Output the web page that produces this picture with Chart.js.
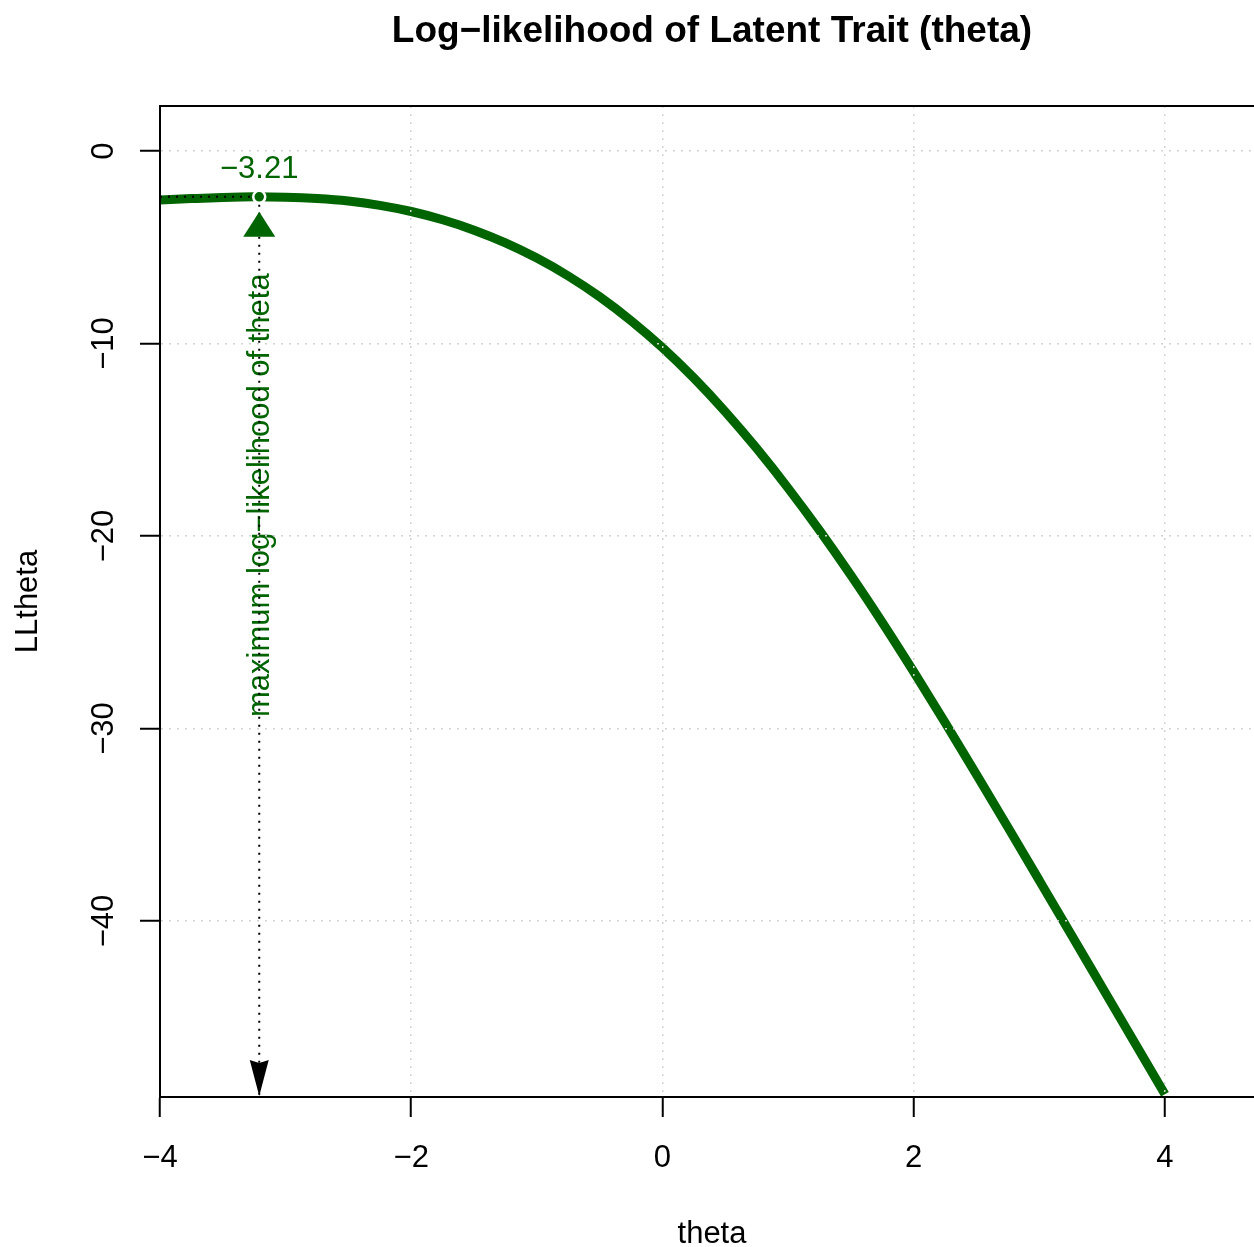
<!DOCTYPE html>
<html>
<head>
<meta charset="utf-8">
<title>Log-likelihood of Latent Trait (theta)</title>
<script src="https://cdn.jsdelivr.net/npm/chart.js@4.4.1/dist/chart.umd.min.js"></script>
<style>
  html, body { margin: 0; padding: 0; background: #fff; }
  canvas { display: block; }
</style>
</head>
<body>
<canvas id="chartLL" width="1254" height="1247"></canvas>
<script>
// theta grid and the log-likelihood at each theta
const thetaValues = [-4.00, -3.75, -3.50, -3.25, -3.00, -2.75, -2.50, -2.25, -2.00, -1.75, -1.50,
  -1.25, -1.00, -0.75, -0.50, -0.25, 0.00, 0.25, 0.50, 0.75, 1.00, 1.25, 1.50, 1.75, 2.00,
  2.25, 2.50, 2.75, 3.00, 3.25, 3.50, 3.75, 4.00];
const llValues = [-2.54, -2.47, -2.41, -2.38, -2.40, -2.47, -2.60, -2.82, -3.14, -3.57, -4.11,
  -4.77, -5.56, -6.49, -7.57, -8.81, -10.21, -11.79, -13.54, -15.45, -17.51, -19.71, -22.04,
  -24.49, -27.05, -29.69, -32.39, -35.13, -37.89, -40.66, -43.44, -46.22, -49.00];

// ejes
const thetaTicks = [-4, -2, 0, 2, 4];
const llTicks = [-40, -30, -20, -10, 0];

// maximum of the log-likelihood
const thetaMax = -3.21;
const llMax = -2.38;

const VERDE = "#006400";
const GRIS = "#D3D3D3";
const FONT = '"Liberation Sans", Arial, Helvetica, sans-serif';
const X_MIN = -4, X_MAX = 4.709;
const Y_MIN = -49.14, Y_MAX = 2.34;
const CENTRO_X = 712;

const conMenos = (v) => (v < 0 ? "\u2212" + Math.abs(v) : String(v));

const canvas = document.getElementById("chartLL");
const context = canvas.getContext("2d");

const textos = {
  id: "textos",
  beforeDatasetsDraw(chart) {
    // vertical label next to the maximum, under the dotted line
    const { ctx, scales: { x } } = chart;
    const px = x.getPixelForValue(thetaMax);
    ctx.save();
    ctx.fillStyle = VERDE;
    ctx.font = `31px ${FONT}`;
    ctx.translate(px + 10, 717);
    ctx.rotate(-Math.PI / 2);
    ctx.textAlign = "left";
    ctx.textBaseline = "alphabetic";
    ctx.fillText("maximum log\u2212likelihood of theta", 0, 0);
    ctx.restore();
  },
  afterDraw(chart) {
    const { ctx, chartArea, scales: { x, y } } = chart;
    const px = x.getPixelForValue(thetaMax);
    const py = y.getPixelForValue(llMax);

    ctx.save();

    // top edge of the box
    ctx.strokeStyle = "#000";
    ctx.lineWidth = 2;
    ctx.beginPath();
    ctx.moveTo(chartArea.left - 1, chartArea.top);
    ctx.lineTo(chartArea.right, chartArea.top);
    ctx.stroke();

    // black arrow head on the theta axis
    const yb = chartArea.bottom;
    ctx.fillStyle = "#000";
    ctx.beginPath();
    ctx.moveTo(px - 9.5, yb - 37);
    ctx.lineTo(px, yb - 34);
    ctx.lineTo(px + 9.5, yb - 37);
    ctx.lineTo(px, yb - 1);
    ctx.closePath();
    ctx.fill();

    // green arrow head under the maximum
    ctx.fillStyle = VERDE;
    ctx.beginPath();
    ctx.moveTo(px, py + 15);
    ctx.lineTo(px + 16, py + 40);
    ctx.lineTo(px - 16, py + 40);
    ctx.closePath();
    ctx.fill();

    // value of the maximum
    ctx.font = `31px ${FONT}`;
    ctx.textAlign = "center";
    ctx.textBaseline = "alphabetic";
    ctx.fillText("\u2212" + Math.abs(thetaMax).toFixed(2), px, py - 19);

    // title
    ctx.fillStyle = "#000";
    ctx.font = `bold 37px ${FONT}`;
    ctx.fillText("Log\u2212likelihood of Latent Trait (theta)", CENTRO_X, 42);

    // tick labels
    ctx.font = `31px ${FONT}`;
    thetaTicks.forEach((v) => {
      ctx.fillText(conMenos(v), x.getPixelForValue(v), 1167);
    });
    ctx.fillText("theta", CENTRO_X, 1243);

    llTicks.forEach((v) => {
      ctx.save();
      ctx.translate(113, y.getPixelForValue(v));
      ctx.rotate(-Math.PI / 2);
      ctx.fillText(conMenos(v), 0, 0);
      ctx.restore();
    });

    ctx.save();
    ctx.translate(37, (chartArea.top + chartArea.bottom) / 2);
    ctx.rotate(-Math.PI / 2);
    ctx.fillText("LLtheta", 0, 0);
    ctx.restore();

    ctx.restore();
  },
};

const ejeComun = {
  type: "linear",
  ticks: { display: false },
  grid: {
    color: GRIS,
    lineWidth: 1.5,
    z: 1,
    drawTicks: true,
    tickLength: 20,
    tickColor: "#000",
    tickWidth: 2,
    tickBorderDash: [],
  },
  border: { display: true, color: "#000", width: 2, dash: [2, 6], z: 1 },
};

const chartLL = new Chart(context, {
  type: "line",
  data: {
    datasets: [
      {
        label: "maximo",
        data: [{ x: thetaMax, y: llMax }],
        showLine: false,
        pointRadius: 6,
        pointBackgroundColor: VERDE,
        pointBorderColor: "#fff",
        pointBorderWidth: 2.5,
        order: 1,
      },
      {
        label: "guia horizontal",
        data: [{ x: thetaValues[0], y: llMax }, { x: thetaMax, y: llMax }],
        borderColor: "#000",
        borderWidth: 2,
        borderDash: [2, 6],
        pointRadius: 0,
        order: 2,
      },
      {
        label: "guia vertical",
        data: [{ x: thetaMax, y: llMax }, { x: thetaMax, y: Y_MIN }],
        borderColor: "#000",
        borderWidth: 2,
        borderDash: [2, 6],
        pointRadius: 0,
        order: 2,
      },
      {
        label: "LLtheta",
        data: thetaValues.map((t, i) => ({ x: t, y: llValues[i] })),
        borderColor: VERDE,
        borderWidth: 9,
        pointRadius: 0,
        cubicInterpolationMode: "monotone",
        order: 3,
      },
    ],
  },
  options: {
    responsive: false,
    animation: false,
    devicePixelRatio: 1,
    layout: { autoPadding: false, padding: { top: 106, left: 0, right: 0, bottom: 0 } },
    plugins: { legend: { display: false }, tooltip: { enabled: false } },
    scales: {
      x: {
        ...ejeComun,
        position: "bottom",
        min: X_MIN,
        max: X_MAX,
        afterBuildTicks: (s) => { s.ticks = thetaTicks.map((v) => ({ value: v })); },
        afterFit: (s) => { s.height = 150; },
      },
      y: {
        ...ejeComun,
        position: "left",
        min: Y_MIN,
        max: Y_MAX,
        afterBuildTicks: (s) => { s.ticks = llTicks.map((v) => ({ value: v })); },
        afterFit: (s) => { s.width = 160; },
      },
    },
  },
  plugins: [textos],
});
</script>
</body>
</html>
